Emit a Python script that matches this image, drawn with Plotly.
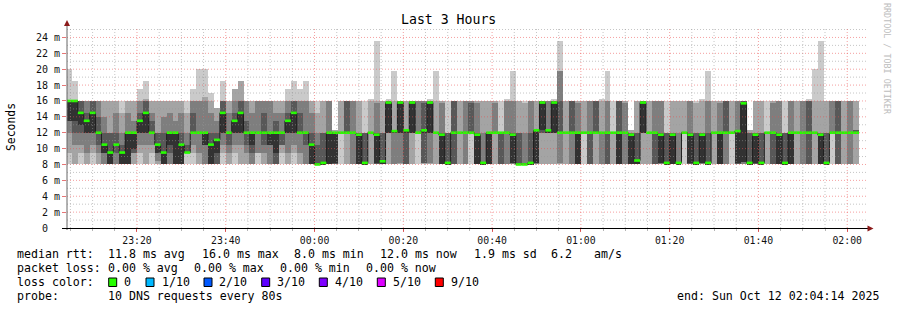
import plotly.graph_objects as go
from datetime import datetime, timedelta

# ---------------- data ----------------
first_sample_start = "2025-10-11 23:04:00"   # start of first 80 s step
step_seconds = 80
range_start = "2025-10-11 23:04:14"
range_end = "2025-10-12 02:04:14"

# 10 sorted DNS response times (ms) per 80 s step
pings_ms = [
    [8, 9.5, 12, 13.5, 13.5, 16, 16, 16, 16, 20],
    [8, 8, 10.5, 12, 13.5, 16, 16, 16, 16, 18.5],
    [8, 9.5, 10.5, 12, 13, 14.5, 16, 16, 16, 16],
    [8, 8, 9.5, 12, 12, 13.5, 14.5, 16, 16, 16],
    [8, 9.5, 10.5, 12, 12, 14.5, 16, 16, 16, 16],
    [8, 8, 9.5, 10.5, 12, 12, 14, 16, 16, 16],
    [8, 8, 8, 9.5, 9.5, 10.5, 12, 14, 16, 16],
    [8, 8, 8, 8, 8, 9.5, 12, 12, 16, 16],
    [8, 8, 8, 9.5, 10.5, 10.5, 12, 14.5, 16, 16],
    [8, 8, 8, 8, 8, 9.5, 10.5, 12, 14.5, 16],
    [8, 8, 8, 8, 8, 12, 12, 14.5, 16, 16],
    [8, 8, 9.5, 9.5, 10, 12, 12, 13.5, 16, 16],
    [8, 9.5, 10.5, 12, 12, 13.5, 14.5, 16, 16, 17.5],
    [8, 8, 10.5, 12, 12, 14.5, 16, 16, 16.3, 18.5],
    [8, 9.5, 10.5, 12, 12, 12, 13.5, 14.5, 16, 16],
    [8, 8, 8.5, 9.5, 9.5, 10.5, 12, 12, 16, 16],
    [8, 8, 8, 8, 8, 9.5, 12, 14, 16, 16],
    [8, 8, 8, 9.5, 10.5, 12, 12, 14.5, 16, 16],
    [8, 8, 8, 8, 8, 12, 12, 13.5, 16, 16],
    [8, 8, 8, 8, 8, 10.5, 12, 14.5, 16, 16],
    [8, 9.5, 9.5, 9.5, 9.5, 9.5, 10.5, 12, 14.5, 16],
    [8, 9.5, 10.5, 12, 12, 12, 14.5, 16, 16, 17.5],
    [8, 8, 9.5, 12, 12, 12, 12, 16, 16, 20],
    [8, 8, 8, 10.5, 10.5, 12, 12, 16, 16.5, 20],
    [8, 8, 8, 8, 8, 10.5, 12, 14.5, 16, 17],
    [8, 8, 8, 8, 9.5, 11.1, 12, 13.5, 15.1, 15.1],
    [8, 9.5, 10.5, 12, 12, 14.5, 16, 16, 16, 18.5],
    [8, 8, 9.5, 10.5, 12, 12, 12, 14.5, 16, 16],
    [8, 9.5, 10.5, 12, 12, 13.5, 14.5, 16, 17.5, 17.5],
    [8, 8, 10.5, 12, 12, 14.5, 16, 16, 18.5, 18.5],
    [8, 8, 9.5, 10.5, 12, 12, 13.5, 16, 16, 16],
    [8, 8, 8, 9.5, 10.5, 12, 12, 14.5, 16, 16],
    [8, 9.5, 9.5, 12, 12, 12, 12, 16, 16, 16],
    [8, 8, 9.5, 10.5, 12, 12, 14.5, 16, 16, 16],
    [8, 8, 8, 10.5, 10.5, 12, 12, 16, 16, 16],
    [8, 8, 8, 8, 9.5, 12, 13.5, 14.5, 16, 16],
    [8, 9.5, 10.5, 10.5, 12, 12, 12, 14.5, 16, 16],
    [8, 8, 9.5, 12, 12, 13.5, 14.5, 16, 16, 17.5],
    [8, 9.5, 10.5, 12, 12, 14.5, 16, 16, 16, 18.5],
    [8, 8, 9.5, 12, 12, 12, 14.5, 16, 16, 17.5],
    [8, 8, 8, 10.5, 12, 12, 12, 16, 16, 18.5],
    [8, 8, 8, 8, 8, 10.5, 12, 14.5, 16, 16],
    [8, 8, 8, 8, 8, 8, 10.5, 12, 14.5, 16],
    [8, 8, 8, 8, 8, 8.2, 12, 12, 16, 16],
    [8, 8, 8, 8, 8, 12, 12, 16, 16, 16],
    [8, 8, 8, 8, 8.2, 12, 12, 12, 12.3, 12.3],
    [8, 12, 12, 12, 12, 12, 12, 12, 16, 16],
    [8, 8, 12, 12, 12, 12, 16, 16, 16, 16],
    [8, 8, 8, 12, 12, 12, 12, 16, 16, 16],
    [8, 8, 8, 8, 8, 11.75, 12, 12, 16, 16],
    [8, 8, 8, 8, 8, 8.2, 12, 12, 12, 16],
    [8, 8, 12, 12, 12, 12, 12, 12, 16, 16.2],
    [8, 8, 8, 8, 8.2, 11.75, 12, 15.8, 16, 23.6],
    [8, 8, 8, 8, 8, 8.4, 12, 12, 16, 16],
    [8, 8, 12, 12, 12, 15.8, 16, 16, 16, 16.3],
    [8, 8, 8, 12, 12, 12.2, 12.3, 12.3, 16, 19.8],
    [8, 8, 8.2, 12, 12, 15.8, 16, 16, 16, 16],
    [8, 8, 8, 8, 12, 12.3, 12.3, 12.3, 16, 16],
    [8, 8, 12, 12, 12, 15.8, 16, 16, 16, 16],
    [8, 12, 12, 12, 12, 12, 12, 16, 16, 16],
    [8, 8, 8.2, 8.2, 12, 12.3, 15.8, 16, 16, 16],
    [8, 8, 8.2, 12, 12, 15.8, 16, 16, 16, 16.2],
    [8, 8, 12, 12, 12, 12, 12, 12, 16, 19.8],
    [8, 8, 8, 8, 8, 11.75, 12, 15.8, 16, 16],
    [8, 8, 8, 8, 8, 8.2, 12, 12, 12, 16],
    [8, 8, 8, 8, 12, 12, 16, 16, 16, 16],
    [8, 8, 12, 12, 12, 12, 12, 12, 16, 16],
    [8, 8, 8, 12, 12, 12, 12, 16, 16, 16],
    [8, 12, 12, 12, 12, 12, 15.8, 16, 16, 16],
    [8, 8, 8, 8, 8, 11.75, 12, 15.8, 16, 16],
    [8, 8, 8, 8, 8, 8.2, 8.2, 12, 16, 16],
    [8, 8, 8, 8, 8, 12, 12, 12, 16, 16],
    [8, 8, 12, 12, 12, 12, 12, 15.8, 16, 16],
    [8, 8, 8, 8, 12, 12, 12, 12, 12, 16],
    [8, 8, 8, 12, 12, 12, 12, 16, 16, 16.2],
    [8, 8, 8, 8.2, 8.2, 11.75, 12, 16, 16, 19.8],
    [8, 8, 8, 8, 8, 8, 12, 12, 16, 16],
    [8, 8, 8, 8, 8, 8, 8.2, 12, 15.8, 16],
    [8, 8, 8, 8, 8, 8.2, 12, 16, 16, 16],
    [8, 8, 8, 8.2, 8.2, 12.3, 12.3, 12.3, 16, 16],
    [8, 8, 12, 12, 12.3, 15.8, 16, 16, 16, 16],
    [8, 8, 12, 12, 12, 12.3, 12.3, 16, 16, 16],
    [8, 8, 12, 12, 12, 15.8, 16, 16, 16, 16.2],
    [8, 8, 8.2, 12, 12, 12, 16, 19.8, 19.8, 23.6],
    [8, 8, 12, 12, 12, 12, 12, 12, 16, 16],
    [8, 8, 8, 12, 12, 12, 16, 16, 16, 16],
    [8, 8, 8, 8, 8, 12, 12, 15.8, 16, 16],
    [8, 12, 12, 12, 12, 12, 12, 12, 16, 16],
    [8, 8, 8, 8, 12, 12, 12, 16, 16, 16],
    [8, 8, 12, 12, 12, 12, 16, 16, 16, 16],
    [8, 8, 8, 12, 12, 12, 12, 12, 16, 16.2],
    [8, 8, 8, 8, 12, 12, 12, 16, 16, 19.8],
    [8, 8, 12, 12, 12, 12, 12, 12, 12, 16],
    [8, 8, 8, 8, 8, 12, 16, 16, 16, 16],
    [8, 8, 8, 12, 12, 12, 12, 15.8, 16, 16],
    [8, 8, 8, 8, 8, 11.75, 12, 12, 12.3, 12.3],
    [8, 8, 8, 8, 8, 8.5, 12, 12, 16, 16],
    [8, 8, 12, 12, 12, 15.8, 16, 16, 16, 16],
    [8, 8, 12, 12, 12, 12, 12, 12, 16, 16],
    [8, 8, 8, 8, 12, 12, 12, 16, 16, 16],
    [8, 8, 8, 8.2, 8.2, 11.75, 12, 16, 16, 16],
    [8, 8, 8, 8, 8, 8.2, 12, 12, 12, 16],
    [8, 8, 8, 8, 8, 11.75, 12, 12, 16, 16],
    [8, 8, 8, 8, 8, 8.2, 8.2, 12, 16, 16],
    [8, 12, 12, 12, 12, 12, 12, 12, 16, 16],
    [8, 8, 8, 8, 8.2, 11.75, 12, 16, 16, 16],
    [8, 8, 8, 8, 8, 8.2, 12, 12, 15.8, 16],
    [8, 8, 8, 8.2, 8.2, 11.75, 12, 12, 16, 16.2],
    [8, 8, 8, 8, 8, 8.2, 12, 16, 16, 19.8],
    [8, 8, 12, 12, 12, 12, 12, 12, 16, 16],
    [8, 8, 8, 8, 8, 12, 12, 15.8, 16, 16],
    [8, 8, 8, 12, 12, 12, 16, 16, 16, 16],
    [8, 12, 12, 12, 12, 12, 12, 12, 16, 16],
    [8, 8, 8, 8, 8.2, 12.2, 12.3, 16, 16, 16],
    [8, 8, 8, 8.3, 8.3, 15.7, 16, 16, 16, 16],
    [8, 8, 8, 8, 8, 8.2, 12, 12, 12.3, 12.3],
    [8, 8, 8, 8, 8.2, 11.75, 12, 12, 16, 16],
    [8, 8, 8, 8, 8, 8.2, 12, 12, 16, 16],
    [8, 8, 12, 12, 12, 12, 12, 12, 12, 16],
    [8, 8, 8, 8, 12, 12, 12, 15.8, 16, 16],
    [8, 8, 8, 8, 8, 11.75, 12, 16, 16, 16],
    [8, 8, 8, 8, 8, 8.2, 12, 12, 12, 16],
    [8, 8, 8, 8, 8, 12, 12, 16, 16, 16],
    [8, 8, 12, 12, 12, 12, 12, 12, 16, 16],
    [8, 8, 8, 12, 12, 12, 12, 16, 16, 16],
    [8, 8, 8, 8, 12, 12, 16, 16, 16, 16.2],
    [8, 8, 12, 12, 12, 12, 12, 12, 16, 20],
    [8, 8, 8, 8, 8, 11.75, 12, 12, 16, 23.6],
    [8, 8, 8, 8, 8, 8.2, 12, 12, 16, 16],
    [8, 12, 12, 12, 12, 12, 12, 16, 16, 16],
    [8, 8, 8, 8, 12, 12, 16, 16, 16, 16],
    [8, 8, 12, 12, 12, 12, 12, 12, 16, 16],
    [8, 8, 8, 12, 12, 12, 12, 16, 16, 16],
    [8, 8, 12, 12, 12, 12, 12.3, 12.3, 16, 16],
]

# median rtt per step (ms), the loss-coloured line
median_ms = [
    16, 16, 14.5, 13.5, 14.5, 12, 10.5, 9.5, 10.5, 9.5,
    12, 12, 13.5, 14.5, 12, 10.5, 9.5, 12, 12, 10.5,
    9.5, 12, 12, 12, 10.5, 11.1, 14.5, 12, 13.5, 14.5,
    12, 12, 12, 12, 12, 12, 12, 13.5, 14.5, 12,
    12, 10.5, 8, 8.2, 12, 12, 12, 12, 12, 11.75,
    8.2, 12, 11.75, 8.4, 15.8, 12.2, 15.8, 12.3, 15.8, 12,
    12.3, 15.8, 12, 11.75, 8.2, 12, 12, 12, 12, 11.75,
    8.2, 12, 12, 12, 12, 11.75, 8, 8, 8.2, 12.3,
    15.8, 12.3, 15.8, 12, 12, 12, 12, 12, 12, 12,
    12, 12, 12, 12, 12, 11.75, 8.5, 15.8, 12, 12,
    11.75, 8.2, 11.75, 8.2, 12, 11.75, 8.2, 11.75, 8.2, 12,
    12, 12, 12, 12.2, 15.7, 8.2, 11.75, 8.2, 12, 12,
    11.75, 8.2, 12, 12, 12, 12, 12, 11.75, 8.2, 12,
    12, 12, 12, 12,
]

y_tick_values = [0, 2, 4, 6, 8, 10, 12, 14, 16, 18, 20, 22, 24]
x_tick_times = ["2025-10-11 23:20", "2025-10-11 23:40", "2025-10-12 00:00",
                "2025-10-12 00:20", "2025-10-12 00:40", "2025-10-12 01:00",
                "2025-10-12 01:20", "2025-10-12 01:40", "2025-10-12 02:00"]
x_tick_labels = ["23:20", "23:40", "00:00", "00:20", "00:40", "01:00",
                 "01:20", "01:40", "02:00"]

stats_rtt = ["11.8 ms avg", "16.0 ms max", "8.0 ms min", "12.0 ms now", "1.9 ms sd", "6.2", "am/s"]
stats_loss = ["0.00 % avg", "0.00 % max", "0.00 % min", "0.00 % now"]
loss_labels = ["0", "1/10", "2/10", "3/10", "4/10", "5/10", "9/10"]
loss_colors = ["#26ff00", "#00b8ff", "#0059ff", "#5e00ff", "#7e00ff", "#dd00ff", "#ff0000"]
probe_text = "10 DNS requests every 80s"
end_text = "end: Sun Oct 12 02:04:14 2025"

# ---------------- geometry / style ----------------
W, H = 897, 310
L, R, T, B = 67, 866, 27, 228
Y_TOP = (B - T) / 7.94
MONO = "DejaVu Sans Mono"
smoke_shades = ["#cacaca", "#a4a4a4", "#7e7e7e", "#585858", "#323232"]


def px(xp):
    return (xp - L) / (R - L)


def py(yp):
    return (B - yp) / (B - T)


t_first = datetime.strptime(first_sample_start, "%Y-%m-%d %H:%M:%S")
step = timedelta(seconds=step_seconds)
n = len(pings_ms)
starts = [t_first + i * step for i in range(n)]
centers = [s + step / 2 for s in starts]

fig = go.Figure()

# smoke: nested bands between i-th lowest and i-th highest ping
for j in range(5):
    base = [row[j] for row in pings_ms]
    top = [row[9 - j] for row in pings_ms]
    fig.add_trace(go.Bar(
        x=centers, y=[t - b for t, b in zip(top, base)], base=base,
        width=step_seconds * 1000,
        marker=dict(color=smoke_shades[j], line=dict(width=0)),
        hoverinfo="skip", showlegend=False,
    ))

# thin dark median line (with vertical connectors)
fig.add_trace(go.Scatter(
    x=starts + [starts[-1] + step], y=median_ms + [median_ms[-1]],
    mode="lines", line=dict(color="#202020", width=1, shape="hv"),
    hoverinfo="skip", showlegend=False,
))

# loss-coloured median segments (0 loss -> green), one per step
seg_x, seg_y = [], []
for s, m in zip(starts, median_ms):
    seg_x += [s, s + step, None]
    seg_y += [m, m, None]
fig.add_trace(go.Scatter(
    x=seg_x, y=seg_y, mode="lines", connectgaps=False,
    line=dict(color=loss_colors[0], width=2.6),
    hoverinfo="skip", showlegend=False,
))

shapes = []
MAJ = "rgba(235,80,80,0.55)"
MIN = "rgba(150,150,150,0.55)"
# horizontal grid (above data, like rrdtool)
for v in range(1, 26):
    if v > Y_TOP:
        break
    shapes.append(dict(type="line", xref="paper", yref="y", x0=0, x1=1, y0=v, y1=v,
                       line=dict(color=MAJ if v % 2 == 0 else MIN, width=1, dash="1px,2px"),
                       layer="above"))
# vertical grid every 5 minutes
g = datetime(2025, 10, 11, 23, 5)
end_dt = datetime(2025, 10, 12, 2, 4, 14)
while g < end_dt:
    shapes.append(dict(type="line", xref="x", yref="paper", x0=g, x1=g, y0=0, y1=1,
                       line=dict(color=MAJ if g.minute % 20 == 0 else MIN, width=1, dash="1px,2px"),
                       layer="above"))
    g += timedelta(minutes=5)

# axes lines + arrows
shapes.append(dict(type="line", xref="paper", yref="paper", x0=px(67), x1=px(67),
                   y0=py(230), y1=py(25), line=dict(color="#666666", width=1), layer="above"))
shapes.append(dict(type="line", xref="paper", yref="paper", x0=px(62), x1=px(869),
                   y0=py(228.5), y1=py(228.5), line=dict(color="#000000", width=1), layer="above"))
shapes.append(dict(type="path", xref="paper", yref="paper",
                   path=f"M {px(867.5)} {py(225.5)} L {px(873.5)} {py(228.5)} L {px(867.5)} {py(231.5)} Z",
                   fillcolor="#8b1a1a", line=dict(width=0), layer="above"))
shapes.append(dict(type="path", xref="paper", yref="paper",
                   path=f"M {px(64)} {py(26)} L {px(67)} {py(20)} L {px(70)} {py(26)} Z",
                   fillcolor="#8b1a1a", line=dict(width=0), layer="above"))

annotations = []


def txt(s, x, y, size=11.6, anchor="left", color="#000000", angle=0):
    annotations.append(dict(text=s, x=px(x), y=py(y), xref="paper", yref="paper",
                            xanchor=anchor, yanchor="middle", showarrow=False,
                            borderpad=0, textangle=angle,
                            font=dict(family=MONO, size=size, color=color)))


txt("Last 3 Hours", 448.5, 19.5, size=13.2, anchor="center")
txt("Seconds", 11, 127, size=11.4, anchor="center", angle=-90)
txt("RRDTOOL / TOBI OETIKER", 887, 59, size=8.4, anchor="center", color="#bdbdbd", angle=90)

# legend lines
txt("median rtt:", 16, 254.3)
for s, x in zip(stats_rtt, [107.3, 200.7, 293.3, 379.3, 472.7, 550, 593.3]):
    txt(s, x, 254.3)
txt("packet loss:", 16, 268.3)
for s, x in zip(stats_loss, [107.3, 193.3, 279.3, 365.3]):
    txt(s, x, 268.3)
txt("loss color:", 16, 282.3)
for lab, col, xs, xt in zip(loss_labels, loss_colors,
                            [108.7, 146, 204, 261.7, 319.3, 377.3, 435.3],
                            [123.3, 160.7, 218.3, 276, 334, 391.7, 450]):
    shapes.append(dict(type="rect", xref="paper", yref="paper",
                       x0=px(xs), x1=px(xs + 8), y0=py(286.5), y1=py(278),
                       fillcolor=col, line=dict(color="#000000", width=1)))
    txt(lab, xt, 282.3)
txt("probe:", 16, 296)
txt(probe_text, 107.3, 296)
txt(end_text, 880.5, 296, anchor="right")

fig.update_layout(
    width=W, height=H,
    margin=dict(l=L, r=W - R, t=T, b=H - B),
    paper_bgcolor="#ffffff", plot_bgcolor="#ffffff",
    barmode="overlay", bargap=0, showlegend=False,
    shapes=shapes, annotations=annotations,
    xaxis=dict(type="date", range=[range_start, range_end],
               tickmode="array", tickvals=x_tick_times, ticktext=x_tick_labels,
               showgrid=False, zeroline=False, showline=False,
               ticks="outside", ticklen=3, tickcolor="rgba(220,60,60,0.8)",
               tickfont=dict(family=MONO, size=9.8, color="#111111"),
               minor=dict(tick0="2025-10-11 23:05", dtick=300000, ticks="outside",
                          ticklen=2, tickcolor="rgba(150,150,150,0.7)", showgrid=False),
               fixedrange=True),
    yaxis=dict(range=[0, Y_TOP], tickmode="array", tickvals=y_tick_values,
               ticktext=[("%d m" % v) if v else "0\u00a0\u00a0" for v in y_tick_values],
               showgrid=False, zeroline=False, showline=False,
               ticks="outside", ticklen=4, tickcolor="rgba(220,60,60,0.7)",
               tickfont=dict(family=MONO, size=10, color="#111111"),
               fixedrange=True),
)

fig.write_html("out.html", config={"displayModeBar": False})
